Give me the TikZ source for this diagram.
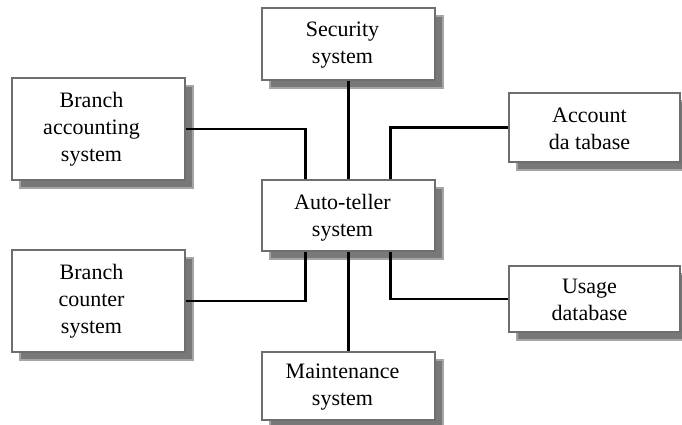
\documentclass[tikz,border=0pt]{standalone}
\usepackage{fontspec}
\setmainfont{Liberation Serif}
\usetikzlibrary{shadows}
\definecolor{boxline}{RGB}{110,110,110}
\definecolor{shadowfill}{RGB}{120,120,120}
\definecolor{shadowline}{RGB}{165,165,165}
\begin{document}
\begin{tikzpicture}[x=1pt,y=-1pt,
  sysbox/.style={rectangle, draw=boxline, line width=2.6pt, fill=white, inner sep=0pt,
    copy shadow={shadow xshift=8pt, shadow yshift=-8pt, fill=shadowfill, draw=shadowline, line width=1.6pt}},
  boxtext/.style={align=center, inner sep=0pt, font=\fontsize{22}{27}\selectfont, text=black},
  link/.style={line width=2.3pt, black}]
\useasboundingbox (0,0) rectangle (682,425);

\node[sysbox, minimum width=173pt, minimum height=72pt]  (sec)   at (348.5,44)  {};
\node[sysbox, minimum width=173pt, minimum height=71pt]  (auto)  at (348.5,215.5) {};
\node[sysbox, minimum width=173pt, minimum height=102pt] (bacc)  at (98.5,129)  {};
\node[sysbox, minimum width=171pt, minimum height=69pt]  (acct)  at (594.5,127.5) {};
\node[sysbox, minimum width=173pt, minimum height=102pt] (bcnt)  at (98.5,301)  {};
\node[sysbox, minimum width=171pt, minimum height=66pt]  (usage) at (594.5,299)  {};
\node[sysbox, minimum width=173pt, minimum height=68pt]  (maint) at (348.5,386)  {};

\node[boxtext] (secT)   at ([xshift=-6pt,yshift=-1pt]sec.center)   {Security\\system};
\node[boxtext] (autoT)  at ([xshift=-6pt,yshift=-2pt]auto.center)  {Auto-teller\\system};
\node[boxtext] (baccT)  at ([xshift=-7pt,yshift=0pt]bacc.center)   {Branch\\accounting\\system};
\node[boxtext] (acctT)  at ([xshift=-5pt,yshift=-1pt]acct.center)  {Account\\da tabase};
\node[boxtext] (bcntT)  at ([xshift=-7pt,yshift=0pt]bcnt.center)   {Branch\\counter\\system};
\node[boxtext] (usageT) at ([xshift=-5pt,yshift=-1pt]usage.center) {Usage\\database};
\node[boxtext] (maintT) at ([xshift=-6pt,yshift=-1pt]maint.center) {Maintenance\\system};

\draw[link] (sec.south) -- (auto.north);
\draw[link] (auto.south) -- (maint.north);
\draw[link] (bacc.east) -| ([xshift=-43pt]auto.north);
\draw[link] (acct.west) -| ([xshift=42pt]auto.north);
\draw[link] (bcnt.east) -| ([xshift=-43pt]auto.south);
\draw[link] (usage.west) -| ([xshift=42pt]auto.south);
\end{tikzpicture}
\end{document}
